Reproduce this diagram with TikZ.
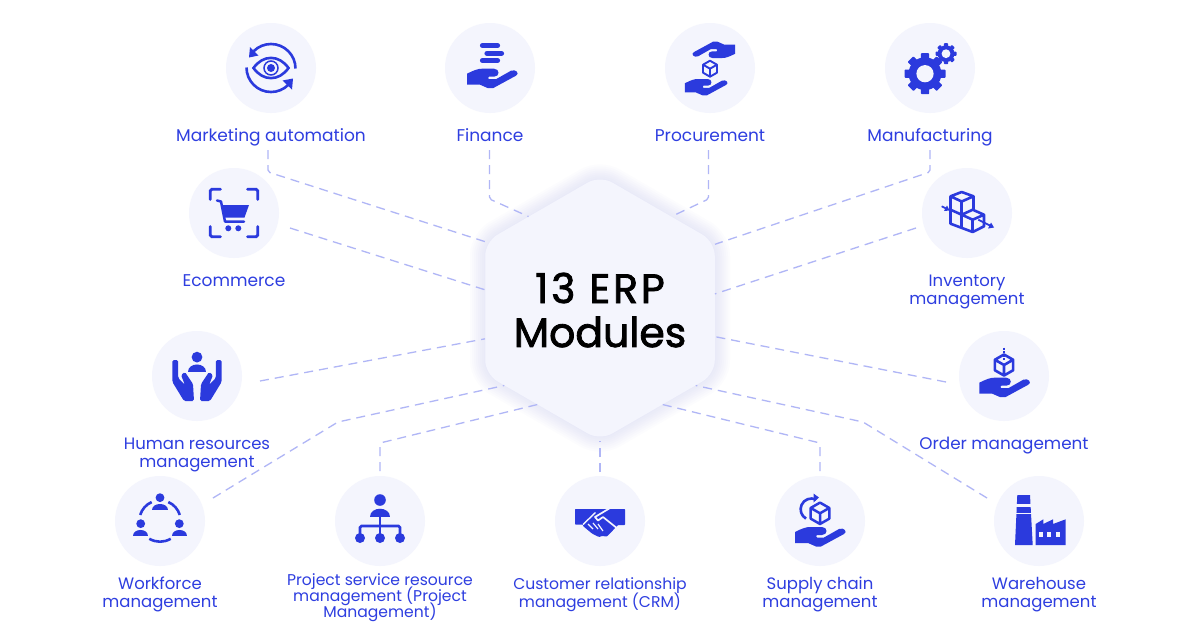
\documentclass[tikz,border=0pt]{standalone}
\usepackage{fontspec}
\usepackage{xcolor}
\usetikzlibrary{positioning,shapes}
\setmainfont{Poppins}
\newfontfamily\headfont[FakeBold=2]{Poppins}
\definecolor{iconblue}{HTML}{2B3ADD}
\definecolor{labelblue}{HTML}{2E3EE0}
\definecolor{linkblue}{HTML}{B0B6F6}
\definecolor{circlebg}{HTML}{F4F5FD}
\definecolor{glowblue}{HTML}{C6CBF8}
\setlength{\lineskiplimit}{-100pt}
\tikzset{
  handicon/.pic={
    \fill [iconblue] (-23,-5) .. controls (-16,-1.5) and (-12,0) .. (-8,0) -- (4,0) .. controls (10,0) and (10,-8) .. (4,-8) -- (-1,-8) .. controls (-2,-8) and (-2.5,-10.5) .. (-1,-10.5) -- (6,-10.5) -- (21,-2) .. controls (26,0) and (30,-5) .. (26,-7) -- (3,-19.5) .. controls (1,-20.2) and (0,-20.2) .. (-2,-19.5) -- (-10,-16) -- (-23,-16) -- cycle;
  },
  cubeicon/.pic={
    \draw [iconblue,line join=round] (0,1) -- (.87,.5) -- (.87,-.5) -- (0,-1) -- (-.87,-.5) -- (-.87,.5) -- cycle (-.87,.5) -- (0,0) -- (.87,.5) (0,0) -- (0,-1);
  },
  gearicon/.pic={
    \fill [iconblue] (0,0) circle (.8);
    \foreach \a in {0,45,...,315}
      \fill [iconblue,rotate=\a,rounded corners=.8pt] (.7,-.2) rectangle (1,.2);
    \fill [circlebg] (0,0) circle (.42);
  },
  personicon/.pic={
    \fill [iconblue] (0,.9) circle (.58);
    \fill [iconblue] (-1,-.75) .. controls (-1,.35) and (1,.35) .. (1,-.75) -- cycle;
  }
}
\begin{document}
\begin{tikzpicture}[x=1pt,y=1pt]
\tikzstyle{every node}+=[inner sep=0pt]
\tikzstyle{modcircle}=[circle,fill=circlebg,minimum size=90pt]
\tikzstyle{modlabel}=[align=center,text=labelblue,text height=12pt,text depth=4pt,font=\fontsize{17}{18}\selectfont]
\tikzstyle{modlabeltwo}=[modlabel,font=\fontsize{16.5}{18}\selectfont]
\tikzstyle{hexagon}=[regular polygon,regular polygon sides=6,regular polygon rotate=30,minimum size=265pt,fill=circlebg,rounded corners=14pt,align=center]
\tikzstyle{link}=[draw=linkblue,line width=1.3pt,dash pattern=on 9pt off 6pt,rounded corners=2pt]
\tikzstyle{iconline}=[draw=iconblue,line width=2.6pt]
\useasboundingbox (0,0) rectangle (1200,-630);
\fill [white] (0,0) rectangle (1200,-630);
% soft edge of the hexagon
\foreach \w in {30,26,...,2}
  \draw [glowblue,opacity=.05,line width=\w pt,line join=round,rounded corners=14pt] (600,-175.5) -- (715,-242) -- (715,-374) -- (600,-440.5) -- (485,-374) -- (485,-242) -- cycle;
\draw (600,-308) node [hexagon] (hex) {};
\draw (600,-288) node [font=\headfont\fontsize{41}{44}\selectfont\addfontfeature{LetterSpace=7}] (headone) {13 ERP};
\draw (600,-332) node [font=\headfont\fontsize{41}{44}\selectfont] (headtwo) {Modules};
% circles
\draw (271,-68) node [modcircle] (marketing) {};
\draw (490,-68) node [modcircle] (finance) {};
\draw (710,-68) node [modcircle] (procurement) {};
\draw (930,-68) node [modcircle] (manufacturing) {};
\draw (234,-213) node [modcircle] (ecommerce) {};
\draw (967,-213) node [modcircle] (inventory) {};
\draw (197,-376) node [modcircle] (human) {};
\draw (1004,-376) node [modcircle] (order) {};
\draw (160,-521) node [modcircle] (workforce) {};
\draw (380,-521) node [modcircle] (project) {};
\draw (600,-521) node [modcircle] (crm) {};
\draw (820,-521) node [modcircle] (supply) {};
\draw (1039,-521) node [modcircle] (warehouse) {};
% labels
\draw (271,-137) node [modlabel] (marketinglabel) {Marketing automation};
\draw (490,-137) node [modlabel] (financelabel) {Finance};
\draw (710,-137) node [modlabel] (procurementlabel) {Procurement};
\draw (930,-137) node [modlabel] (manufacturinglabel) {Manufacturing};
\draw (234,-282) node [modlabel] (ecommercelabel) {Ecommerce};
\draw (967,-300) node [modlabeltwo] (inventorylabel) {Inventory\\management};
\draw (197,-463) node [modlabeltwo] (humanlabel) {Human resources\\management};
\draw (1004,-445) node [modlabel,font=\fontsize{16.8}{18}\selectfont] (orderlabel) {Order management};
\draw (160,-603) node [modlabeltwo] (workforcelabel) {Workforce\\management};
\draw (380,-613) node [modlabel,font=\fontsize{15.6}{16}\selectfont] (projectlabel) {Project service resource\\management (Project\\Management)};
\draw (600,-603) node [modlabel,font=\fontsize{15.6}{18}\selectfont] (crmlabel) {Customer relationship\\management (CRM)};
\draw (820,-603) node [modlabeltwo] (supplylabel) {Supply chain\\management};
\draw (1039,-603) node [modlabeltwo] (warehouselabel) {Warehouse\\management};
% free ends of the connectors
\coordinate (marketingend) at (268,-150);
\coordinate (marketingbend) at (268,-172);
\coordinate (financeend) at (489.5,-150);
\coordinate (financebend) at (489.5,-199);
\coordinate (procurementend) at (708.5,-150);
\coordinate (procurementbend) at (708.5,-199);
\coordinate (manufacturingend) at (930,-150);
\coordinate (manufacturingbend) at (930,-172);
\coordinate (ecommerceend) at (290,-228);
\coordinate (inventoryend) at (916,-228);
\coordinate (humanend) at (260,-381);
\coordinate (orderend) at (946,-382);
\coordinate (workforceend) at (213,-498);
\coordinate (workforcebend) at (338,-422);
\coordinate (warehouseend) at (987,-498);
\coordinate (warehousebend) at (863,-422);
\coordinate (projectend) at (380,-471);
\coordinate (projectbend) at (380,-443);
\coordinate (supplyend) at (820,-471);
\coordinate (supplybend) at (820,-443);
\coordinate (crmend) at (600,-472);
% connectors
\draw [link] (marketingend) -- (marketingbend) -- (hex.150.6);
\draw [link] (financeend) -- (financebend) -- (hex.128.4);
\draw [link] (procurementend) -- (procurementbend) -- (hex.52.4);
\draw [link] (manufacturingend) -- (manufacturingbend) -- (hex.29.7);
\draw [link] (ecommerceend) -- (hex.171.6);
\draw [link] (inventoryend) -- (hex.7.4);
\draw [link] (humanend) -- (hex.195.1);
\draw [link] (orderend) -- (hex.-14.5);
\draw [link] (workforceend) -- (workforcebend) -- (hex.219.5);
\draw [link] (warehouseend) -- (warehousebend) -- (hex.-39.2);
\draw [link] (projectend) -- (projectbend) -- (hex.237.9);
\draw [link] (supplyend) -- (supplybend) -- (hex.-57.9);
\draw [link] (crmend) -- (hex.270);
% marketing automation
\begin{scope}[shift={(marketing)}]
\draw [iconline] (24.5,-.5) arc (0:135:24.5);
\draw [iconline] (-24.5,.5) arc (180:315:24.5);
\fill [iconblue] (-21,21) -- (-22,10.5) -- (-12.5,12.5) -- cycle;
\fill [iconblue] (22,-10.5) -- (21,-21.5) -- (11.5,-12.5) -- cycle;
\draw [iconline] (-17.5,0) .. controls (-8,13.5) and (8,13.5) .. (17.5,0) .. controls (8,-13.5) and (-8,-13.5) .. (-17.5,0) -- cycle;
\fill [iconblue] (0,0) circle (4);
\draw [iconline,line width=1.5pt] (0,0) circle (7);
\end{scope}
% finance
\begin{scope}[shift={(finance)}]
\pic at (0,-.7) {handicon};
\draw [iconline,line width=5.2pt,line cap=round] (-7.5,22.5) -- (7.5,22.5);
\draw [iconline,line width=5.2pt,line cap=round] (-3,14.7) -- (11.5,14.7);
\draw [iconline,line width=5.2pt,line cap=round] (-7.5,7.5) -- (7.5,7.5);
\end{scope}
% procurement
\begin{scope}[shift={(procurement)}]
\pic [scale=.84] at (-5.7,-11) {handicon};
\pic [scale=.84,rotate=180] at (5.7,10) {handicon};
\pic [scale=8,line width=1.9pt] at (0,-.7) {cubeicon};
\end{scope}
% manufacturing
\begin{scope}[shift={(manufacturing)}]
\pic [scale=20.5] at (-5,-5.7) {gearicon};
\pic [scale=10.5] at (16,14.3) {gearicon};
\end{scope}
% ecommerce
\begin{scope}[shift={(ecommerce)}]
\foreach \sx/\sy in {1/1,-1/1,1/-1,-1/-1}
  \draw [iconline,line width=2.8pt,line cap=round,rounded corners=1.5pt,xscale=\sx,yscale=\sy] (13.5,23.7) -- (23.7,23.7) -- (23.7,13.5);
\draw [iconline,line width=2.5pt,line cap=round,line join=round] (-17,12.5) -- (-13,11.5) -- (-9,-8.5) -- (10,-8.5);
\fill [iconblue] (-12.5,8) -- (15,8) -- (10.5,-4.5) -- (-10,-4.5) -- cycle;
\fill [iconblue] (-5.7,-15.3) circle (3);
\fill [iconblue] (4.3,-15.3) circle (3);
\end{scope}
% inventory
\begin{scope}[shift={(inventory)}]
\draw [iconline,line join=round] (-16.5,16.7) -- (-5.3,21) -- (6.5,16.7) -- (-5.3,11.5) -- cycle;
\draw [iconline,line join=round] (-16.5,16.7) -- (-16.5,-10.7) -- (5.7,-19) -- (17,-13.3) -- (17,-1.7) -- (5.7,3.3) -- (-5.3,-1.7) -- (5.7,-6.7) -- (17,-1.7);
\draw [iconline] (6.5,16.7) -- (6.5,3);
\draw [iconline] (-5.3,11.5) -- (-5.3,-15);
\draw [iconline] (5.7,-6.7) -- (5.7,-19);
\draw [iconline] (-16.5,3.3) -- (-5.3,-1.7);
\draw [iconline,line width=1.8pt] (-25.3,6.7) -- (-21,4.5);
\fill [iconblue] (-17.5,2.5) -- (-23,2) -- (-20,7.5) -- cycle;
\draw [iconline,line width=1.8pt] (11.3,-6.7) -- (23,-12.5);
\fill [iconblue] (27,-14.5) -- (21,-15.5) -- (24,-9.5) -- cycle;
\end{scope}
% human resources
\begin{scope}[shift={(human)}]
\pic [scale=9.3] at (0,10.5) {personicon};
\foreach \sx in {1,-1}
  \fill [iconblue,xscale=\sx,rounded corners=1.5pt] (-24.6,16) -- (-18.8,16) -- (-18.8,-2) -- (-12,-9) -- (-16,1) -- (-12,4) -- (-4,-8) -- (-3,-25) -- (-13,-25) -- (-24.6,-6) -- cycle;
\end{scope}
% order management
\begin{scope}[shift={(order)}]
\pic at (-1.7,-1.7) {handicon};
\pic [scale=10.5,line width=2.6pt] at (0,11) {cubeicon};
\draw [iconblue,line width=1.8pt,dash pattern=on 2pt off 1.5pt] (0,28.5) -- (0,15);
\end{scope}
% workforce
\begin{scope}[shift={(workforce)}]
\pic [scale=7.6] at (0,16.5) {personicon};
\pic [scale=7.6] at (-19.3,-9.5) {personicon};
\pic [scale=7.6] at (19.3,-9.5) {personicon};
\draw [iconline] (113.7:20.7) arc (113.7:163:20.7);
\draw [iconline] (17:20.7) arc (17:66.3:20.7);
\draw [iconline] (239:20.7) arc (239:301:20.7);
\end{scope}
% project service
\begin{scope}[shift={(project)}]
\pic [scale=10] at (0,12) {personicon};
\draw [iconline,rounded corners=1.5pt] (-20,-16.7) -- (-20,-5) -- (20,-5) -- (20,-16.7);
\draw [iconline] (0,4.5) -- (0,-16.7);
\fill [iconblue] (-20,-17) circle (5);
\fill [iconblue] (0,-17) circle (5);
\fill [iconblue] (20,-17) circle (5);
\end{scope}
% customer relationship
\begin{scope}[shift={(crm)}]
\fill [iconblue,rounded corners=.7pt] (-25,12) -- (25,12) -- (25,-4) -- (18,-4) -- (7,-15.5) -- (2,-15) -- (-1,-16) -- (-8,-12.5) -- (-17,-5) -- (-17,-3.5) -- (-25,-3.5) -- cycle;
\draw [circlebg,line width=1.7pt,line join=round] (10,13) -- (-5,4) -- (-2,.5) -- (3,4) -- (18,-8);
\draw [circlebg,line width=1.4pt] (-4.5,8.5) -- (-17,-3.5);
\draw [circlebg,line width=1.2pt] (-12,-3) -- (-7,-8) (-7,-2) -- (-2,-8) (-2,-3) -- (3,-10);
\end{scope}
% supply chain
\begin{scope}[shift={(supply)}]
\pic at (-2,-6) {handicon};
\pic [scale=10.7,line width=2.5pt] at (0,7.7) {cubeicon};
\draw [iconline,line width=2.6pt] (-4,21.5) arc (65:240:10.8);
\fill [iconblue] (-1,23.5) -- (-6.5,27.5) -- (-6.5,18.5) -- cycle;
\end{scope}
% warehouse
\begin{scope}[shift={(warehouse)}]
\fill [iconblue] (-21.7,26) -- (-9,26) -- (-6.3,-24) -- (-24,-24) -- cycle;
\fill [circlebg] (-24,16.8) rectangle (-6,14);
\fill [circlebg] (-24,8.5) rectangle (-6,7);
\fill [iconblue] (-3.3,-24) -- (-3.3,-3) -- (4.3,1.7) -- (4.3,-3) -- (14,1.7) -- (14,-3) -- (26.7,1.7) -- (26.7,-24) -- cycle;
\fill [circlebg] (0,-15.8) rectangle (4,-10.8);
\fill [circlebg] (8.3,-15.8) rectangle (12.3,-10.8);
\fill [circlebg] (17.3,-15.8) rectangle (21.3,-10.8);
\end{scope}
\end{tikzpicture}
\end{document}
